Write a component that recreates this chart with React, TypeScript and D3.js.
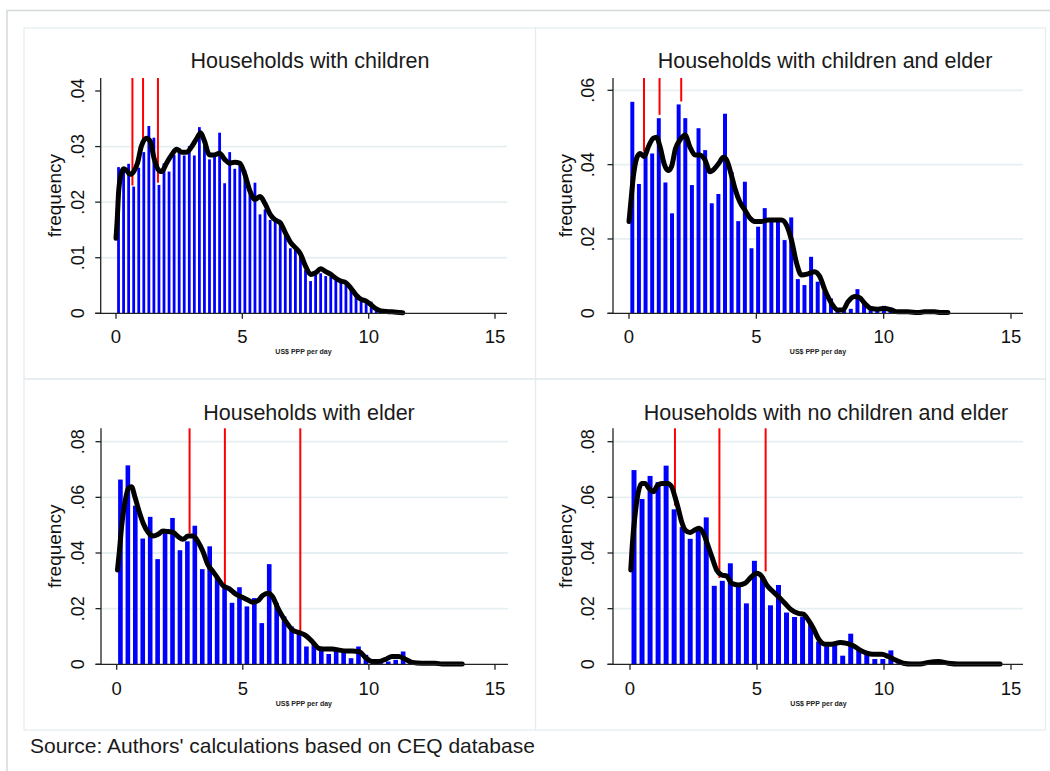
import React from 'react';
import * as d3 from 'd3';

// ---------- DATA ----------
const titles = [
  'Households with children',
  'Households with children and elder',
  'Households with elder',
  'Households with no children and elder',
];
const xTicks = [0, 5, 10, 15];
const yTicksA = [0, 0.01, 0.02, 0.03, 0.04];
const yTicksB = [0, 0.02, 0.04, 0.06];
const yTicksC = [0, 0.02, 0.04, 0.06, 0.08];
const gridA = [0.01, 0.02, 0.03];
const gridB = [0.02, 0.04, 0.06];
const gridC = [0.02, 0.04, 0.06, 0.08];
const yLabel = 'frequency';
const xLabel = 'US$ PPP per day';
const source = "Source: Authors' calculations based on CEQ database";

// histogram bin widths
const binW1 = 0.2;
const binW2 = 0.26;
const binW3 = 0.295;
const binW4 = 0.316;

// histogram heights (frequency)
const bars1 = [
  0.0263, 0.0255, 0.0269, 0.0228, 0.0262, 0.029, 0.0337, 0.0316, 0.0231, 0.027,
  0.0255, 0.0285, 0.0297, 0.0284, 0.0301, 0.0284, 0.0335, 0.0302, 0.0277, 0.0287,
  0.0325, 0.0234, 0.029, 0.026, 0.0272, 0.0258, 0.0215, 0.0235, 0.0178, 0.0187,
  0.0168, 0.0168, 0.0165, 0.0144, 0.0117, 0.0114, 0.0102, 0.0078, 0.0058, 0.0069,
  0.0072, 0.0067, 0.0066, 0.0063, 0.0055, 0.0051, 0.0045, 0.0036, 0.0021, 0.0021,
  0.0021, 0.001, 0.0004,
];
const bars2 = [
  0.0569, 0.0348, 0.0435, 0.043, 0.0525, 0.0352, 0.0269, 0.0562, 0.0525, 0.0345,
  0.0498, 0.0439, 0.0296, 0.0321, 0.0537, 0.038, 0.0248, 0.0354, 0.0175, 0.0233,
  0.0283, 0.0251, 0.0256, 0.0197, 0.0258, 0.0092, 0.0076, 0.0152, 0.0085, 0.006,
  0.004, 0.0012, 0.0006, 0.0012, 0.0065, 0.0031, 0.0018, 0.0015, 0.002, 0.0015,
  0.0006,
];
const bars3 = [
  0.0664, 0.0715, 0.057, 0.0452, 0.053, 0.0378, 0.0485, 0.0526, 0.041, 0.0442,
  0.0498, 0.0342, 0.0424, 0.031, 0.028, 0.0221, 0.0277, 0.0208, 0.0238, 0.0148,
  0.036, 0.022, 0.0172, 0.0136, 0.0112, 0.0064, 0.0076, 0.0058, 0.0037, 0.0048,
  0.0042, 0.0022, 0.0064, 0.0034, 0.001, 0.0004, 0.001, 0.0016, 0.0046, 0.001,
  0.0006,
];
const bars4 = [
  0.0698, 0.0594, 0.0677, 0.0655, 0.0714, 0.0557, 0.0493, 0.0451, 0.048, 0.0528,
  0.0282, 0.03, 0.0363, 0.0285, 0.0219, 0.0372, 0.0315, 0.0212, 0.0285, 0.0186,
  0.017, 0.0171, 0.0147, 0.0082, 0.0065, 0.0075, 0.0031, 0.011, 0.0057, 0.004,
  0.0019, 0.0019, 0.005, 0.0004, 0.0002,
];

// kernel density curves [x, density]
const kde1: [number, number][] = [
  [0, 0.0135], [0.05, 0.017], [0.1, 0.0216], [0.2, 0.025], [0.3, 0.026], [0.4, 0.0258],
  [0.55, 0.025], [0.7, 0.0255], [0.85, 0.027], [1.0, 0.03], [1.2, 0.0315], [1.35, 0.031],
  [1.5, 0.028], [1.65, 0.026], [1.8, 0.0255], [2.0, 0.027], [2.2, 0.0285], [2.4, 0.0295],
  [2.6, 0.029], [2.8, 0.029], [3.0, 0.03], [3.2, 0.0315], [3.35, 0.0325], [3.5, 0.031],
  [3.7, 0.0285], [3.9, 0.0285], [4.1, 0.0288], [4.3, 0.0277], [4.5, 0.027], [4.7, 0.0272],
  [4.9, 0.027], [5.1, 0.025], [5.3, 0.022], [5.5, 0.0205], [5.7, 0.021], [5.9, 0.0197],
  [6.1, 0.0178], [6.3, 0.0168], [6.5, 0.0163], [6.7, 0.0145], [6.9, 0.0128], [7.1, 0.0118],
  [7.3, 0.0107], [7.5, 0.0085], [7.7, 0.007], [7.9, 0.0073], [8.1, 0.008], [8.3, 0.0075],
  [8.5, 0.007], [8.7, 0.0063], [8.9, 0.0058], [9.1, 0.0055], [9.3, 0.0045], [9.5, 0.0033],
  [9.7, 0.0025], [9.9, 0.0022], [10.1, 0.0015], [10.3, 0.0008], [10.5, 0.0004],
  [10.8, 0.0003], [11.1, 0.0002], [11.35, 0.0001],
];
const kde2: [number, number][] = [
  [0, 0.0247], [0.08, 0.0305], [0.17, 0.0368], [0.3, 0.0417], [0.43, 0.043], [0.6, 0.0422],
  [0.76, 0.0448], [0.95, 0.0471], [1.08, 0.0474], [1.22, 0.0448], [1.39, 0.04], [1.54, 0.0384],
  [1.67, 0.0395], [1.83, 0.0444], [2.0, 0.0466], [2.2, 0.048], [2.39, 0.0448], [2.59, 0.0426],
  [2.78, 0.0426], [2.98, 0.0413], [3.18, 0.0381], [3.37, 0.039], [3.57, 0.0408], [3.7, 0.042],
  [3.83, 0.0413], [4.0, 0.0377], [4.16, 0.0336], [4.35, 0.03], [4.55, 0.0278], [4.75, 0.0256],
  [4.94, 0.0247], [5.2, 0.0247], [5.46, 0.0251], [5.73, 0.0251], [5.99, 0.0251], [6.18, 0.0238],
  [6.38, 0.0197], [6.58, 0.0135], [6.77, 0.0103], [7.03, 0.0106], [7.29, 0.0112], [7.49, 0.0099],
  [7.69, 0.0063], [7.95, 0.0027], [8.2, 0.0009], [8.4, 0.0009], [8.6, 0.0031], [8.86, 0.0045],
  [9.06, 0.0042], [9.25, 0.0027], [9.5, 0.0013], [9.78, 0.0011], [10.04, 0.0013], [10.3, 0.0009],
  [10.56, 0.0004], [10.95, 0.0004], [11.35, 0.0002], [11.6, 0.0004], [12.0, 0.0004],
  [12.26, 0.0002], [12.52, 0.0002],
];
const kde3: [number, number][] = [
  [0.03, 0.0339], [0.1, 0.04], [0.2, 0.05], [0.33, 0.0584], [0.46, 0.0632], [0.59, 0.0638],
  [0.72, 0.0602], [0.89, 0.0549], [1.05, 0.0507], [1.25, 0.0474], [1.45, 0.0461], [1.64, 0.0467],
  [1.84, 0.0479], [2.04, 0.0477], [2.24, 0.0474], [2.43, 0.0459], [2.63, 0.0449], [2.83, 0.0461],
  [3.03, 0.0461], [3.22, 0.0441], [3.42, 0.0405], [3.62, 0.0357], [3.82, 0.0333], [4.01, 0.0309],
  [4.21, 0.0283], [4.47, 0.0271], [4.74, 0.0251], [5.0, 0.024], [5.2, 0.0231], [5.39, 0.0223],
  [5.59, 0.0228], [5.79, 0.0247], [5.99, 0.0255], [6.18, 0.0243], [6.38, 0.0204], [6.58, 0.0171],
  [6.78, 0.0144], [6.97, 0.0123], [7.24, 0.0114], [7.5, 0.0103], [7.76, 0.0081], [8.03, 0.0057],
  [8.29, 0.0055], [8.55, 0.0055], [8.82, 0.0051], [9.08, 0.0048], [9.34, 0.0048], [9.6, 0.0046],
  [9.87, 0.0024], [10.13, 0.001], [10.39, 0.001], [10.66, 0.0018], [10.92, 0.0028], [11.18, 0.0028],
  [11.45, 0.0018], [11.71, 0.0007], [12.1, 0.0004], [12.63, 0.0004], [12.9, 0.0001], [13.7, 0.0001],
];
const kde4: [number, number][] = [
  [0.03, 0.0339], [0.09, 0.0429], [0.2, 0.0537], [0.33, 0.062], [0.46, 0.065], [0.59, 0.065],
  [0.75, 0.0632], [0.92, 0.062], [1.09, 0.0644], [1.27, 0.065], [1.48, 0.065], [1.64, 0.0638],
  [1.77, 0.0602], [1.9, 0.056], [2.03, 0.0513], [2.17, 0.0483], [2.36, 0.0474], [2.56, 0.0483],
  [2.72, 0.0489], [2.89, 0.0471], [3.06, 0.0429], [3.22, 0.0387], [3.41, 0.0339], [3.61, 0.0321],
  [3.81, 0.0317], [4.0, 0.0291], [4.27, 0.0285], [4.53, 0.0291], [4.72, 0.0309], [4.99, 0.0327],
  [5.18, 0.0317], [5.38, 0.0285], [5.64, 0.0261], [5.91, 0.0237], [6.1, 0.0219], [6.36, 0.0195],
  [6.63, 0.0183], [6.82, 0.018], [7.02, 0.0159], [7.22, 0.0129], [7.41, 0.0093], [7.68, 0.0072],
  [7.94, 0.0072], [8.27, 0.0078], [8.53, 0.0075], [8.79, 0.0067], [9.06, 0.0051], [9.32, 0.004],
  [9.58, 0.0036], [9.91, 0.0036], [10.17, 0.0028], [10.43, 0.0016], [10.76, 0.0004], [11.09, 0.0001],
  [11.42, 0.0001], [11.75, 0.0007], [12.14, 0.001], [12.53, 0.0004], [12.93, 0.0001],
  [13.32, 0.0001], [13.98, 0.0001], [14.57, 0.0001],
];

// red reference lines: x position and lower end (density)
const red1X = [0.65, 1.07, 1.66];
const red1Y = [0.023, 0.0305, 0.0235];
const red2X = [0.59, 1.2, 2.05];
const red2Y = [0.0435, 0.0534, 0.057];
const red3X = [2.89, 4.29, 7.28];
const red3Y = [0.047, 0.0285, 0.0115];
const red4X = [1.77, 3.52, 5.34];
const red4Y = [0.057, 0.031, 0.0334];

// ---------- LAYOUT ----------
type Layout = {
  x0: number; x15: number; axisX: number; xEnd: number;
  yBase: number; yTop: number; tickVal: number; tickPx: number;
  titleX: number; titleY: number; yLabX: number; freqX: number; xLabY: number; xTitleY: number;
};
const L1: Layout = { x0: 116, x15: 495, axisX: 100.7, xEnd: 507, yBase: 313.3, yTop: 78, tickVal: 0.04, tickPx: 91, titleX: 310, titleY: 68.3, yLabX: 84, freqX: 61, xLabY: 343, xTitleY: 354 };
const L2: Layout = { x0: 629, x15: 1011, axisX: 613, xEnd: 1023, yBase: 313.3, yTop: 78, tickVal: 0.06, tickPx: 90.3, titleX: 825, titleY: 68.3, yLabX: 594, freqX: 572, xLabY: 343, xTitleY: 354 };
const L3: Layout = { x0: 116.7, x15: 495, axisX: 101, xEnd: 508, yBase: 664.3, yTop: 428.3, tickVal: 0.08, tickPx: 441.7, titleX: 309, titleY: 420, yLabX: 84, freqX: 61, xLabY: 695, xTitleY: 706 };
const L4: Layout = { x0: 630, x15: 1011, axisX: 613, xEnd: 1023, yBase: 664.3, yTop: 428.3, tickVal: 0.08, tickPx: 441.7, titleX: 826, titleY: 420, yLabX: 594, freqX: 572, xLabY: 695, xTitleY: 706 };

const FONT = "'Liberation Sans', Arial, Helvetica, sans-serif";
const fmt = (v: number) => (v === 0 ? '0' : d3.format('.2f')(v).replace(/^0/, ''));

type PanelProps = {
  title: string; bars: number[]; binW: number; kde: [number, number][];
  redX: number[]; redY: number[]; yTicks: number[]; grid: number[]; L: Layout; barFrac: number;
};

function Panel({ title, bars, binW, kde, redX, redY, yTicks, grid, L, barFrac }: PanelProps) {
  const x = d3.scaleLinear().domain([0, 15]).range([L.x0, L.x15]);
  const y = d3.scaleLinear().domain([0, L.tickVal]).range([L.yBase, L.tickPx]);
  const yTopVal = y.invert(L.yTop);
  const line = d3
    .line<[number, number]>()
    .x((d) => x(d[0]))
    .y((d) => y(d[1]))
    .curve(d3.curveMonotoneX);
  const bw = (x(binW) - x(0)) * barFrac;
  return (
    <g>
      {grid.map((g) => (
        <line key={'g' + g} x1={L.axisX} x2={L.xEnd} y1={y(g)} y2={y(g)} stroke="#e6eff1" strokeWidth={1.8} />
      ))}
      {bars.map((v, i) => {
        const cx = x((i + 0.5) * binW);
        return (
          <rect key={'b' + i} x={cx - bw / 2} y={y(v)} width={bw} height={y(0) - y(v)} fill="#0000ff" />
        );
      })}
      {redX.map((rx, i) => (
        <line key={'r' + i} x1={x(rx)} x2={x(rx)} y1={y(yTopVal)} y2={y(redY[i])} stroke="#ff0000" strokeWidth={2} />
      ))}
      <path d={line(kde) || ''} fill="none" stroke="#000" strokeWidth={5} strokeLinejoin="round" strokeLinecap="round" />
      {/* axes */}
      <line x1={L.axisX} x2={L.axisX} y1={L.yTop} y2={L.yBase} stroke="#222" strokeWidth={1.3} />
      <line x1={L.axisX - 5.5} x2={L.xEnd} y1={L.yBase} y2={L.yBase} stroke="#222" strokeWidth={1.3} />
      {yTicks.map((t) => (
        <g key={'yt' + t}>
          <line x1={L.axisX - 5.5} x2={L.axisX} y1={y(t)} y2={y(t)} stroke="#222" strokeWidth={1.3} />
          <text
            transform={`translate(${L.yLabX},${y(t)}) rotate(-90)`}
            textAnchor="middle"
            fontSize={18}
            fontFamily={FONT}
            fill="#111"
          >
            {fmt(t)}
          </text>
        </g>
      ))}
      {xTicks.map((t) => (
        <g key={'xt' + t}>
          <line x1={x(t)} x2={x(t)} y1={L.yBase} y2={L.yBase + 5.5} stroke="#222" strokeWidth={1.3} />
          <text x={x(t)} y={L.xLabY} textAnchor="middle" fontSize={18.5} fontFamily={FONT} fill="#111">
            {t}
          </text>
        </g>
      ))}
      <text
        transform={`translate(${L.freqX},${(L.yTop + L.yBase) / 2}) rotate(-90)`}
        textAnchor="middle"
        fontSize={19}
        fontFamily={FONT}
        fill="#111"
      >
        {yLabel}
      </text>
      <text x={(L.x0 + L.x15) / 2 - 2} y={L.xTitleY} textAnchor="middle" fontSize={7} fontWeight="bold" fontFamily={FONT} fill="#222">
        {xLabel}
      </text>
      <text x={L.titleX} y={L.titleY} textAnchor="middle" fontSize={21.5} fontFamily={FONT} fill="#1a1a1a">
        {title}
      </text>
    </g>
  );
}

export default function App() {
  return (
    <svg
      width={1050}
      height={771}
      style={{ position: 'absolute', left: 0, top: 0, background: '#fff' }}
    >
      <rect x={0} y={0} width={1050} height={771} fill="#fff" />
      {/* outer frame */}
      <rect x={7} y={10.5} width={1060} height={780} fill="none" stroke="#d6dbdb" strokeWidth={1.6} />
      {/* panel borders */}
      <rect x={24} y={28} width={511.5} height={351} fill="none" stroke="#e3ecee" strokeWidth={1.2} />
      <rect x={535.5} y={28} width={510} height={351} fill="none" stroke="#e3ecee" strokeWidth={1.2} />
      <rect x={24} y={379} width={511.5} height={351} fill="none" stroke="#e3ecee" strokeWidth={1.2} />
      <rect x={535.5} y={379} width={510} height={351} fill="none" stroke="#e3ecee" strokeWidth={1.2} />
      <Panel title={titles[0]} bars={bars1} binW={binW1} kde={kde1} redX={red1X} redY={red1Y} yTicks={yTicksA} grid={gridA} L={L1} barFrac={0.55} />
      <Panel title={titles[1]} bars={bars2} binW={binW2} kde={kde2} redX={red2X} redY={red2Y} yTicks={yTicksB} grid={gridB} L={L2} barFrac={0.6} />
      <Panel title={titles[2]} bars={bars3} binW={binW3} kde={kde3} redX={red3X} redY={red3Y} yTicks={yTicksC} grid={gridC} L={L3} barFrac={0.62} />
      <Panel title={titles[3]} bars={bars4} binW={binW4} kde={kde4} redX={red4X} redY={red4Y} yTicks={yTicksC} grid={gridC} L={L4} barFrac={0.62} />
      <text x={30} y={753} fontSize={21} fontFamily={FONT} fill="#1a1a1a">
        {source}
      </text>
    </svg>
  );
}
